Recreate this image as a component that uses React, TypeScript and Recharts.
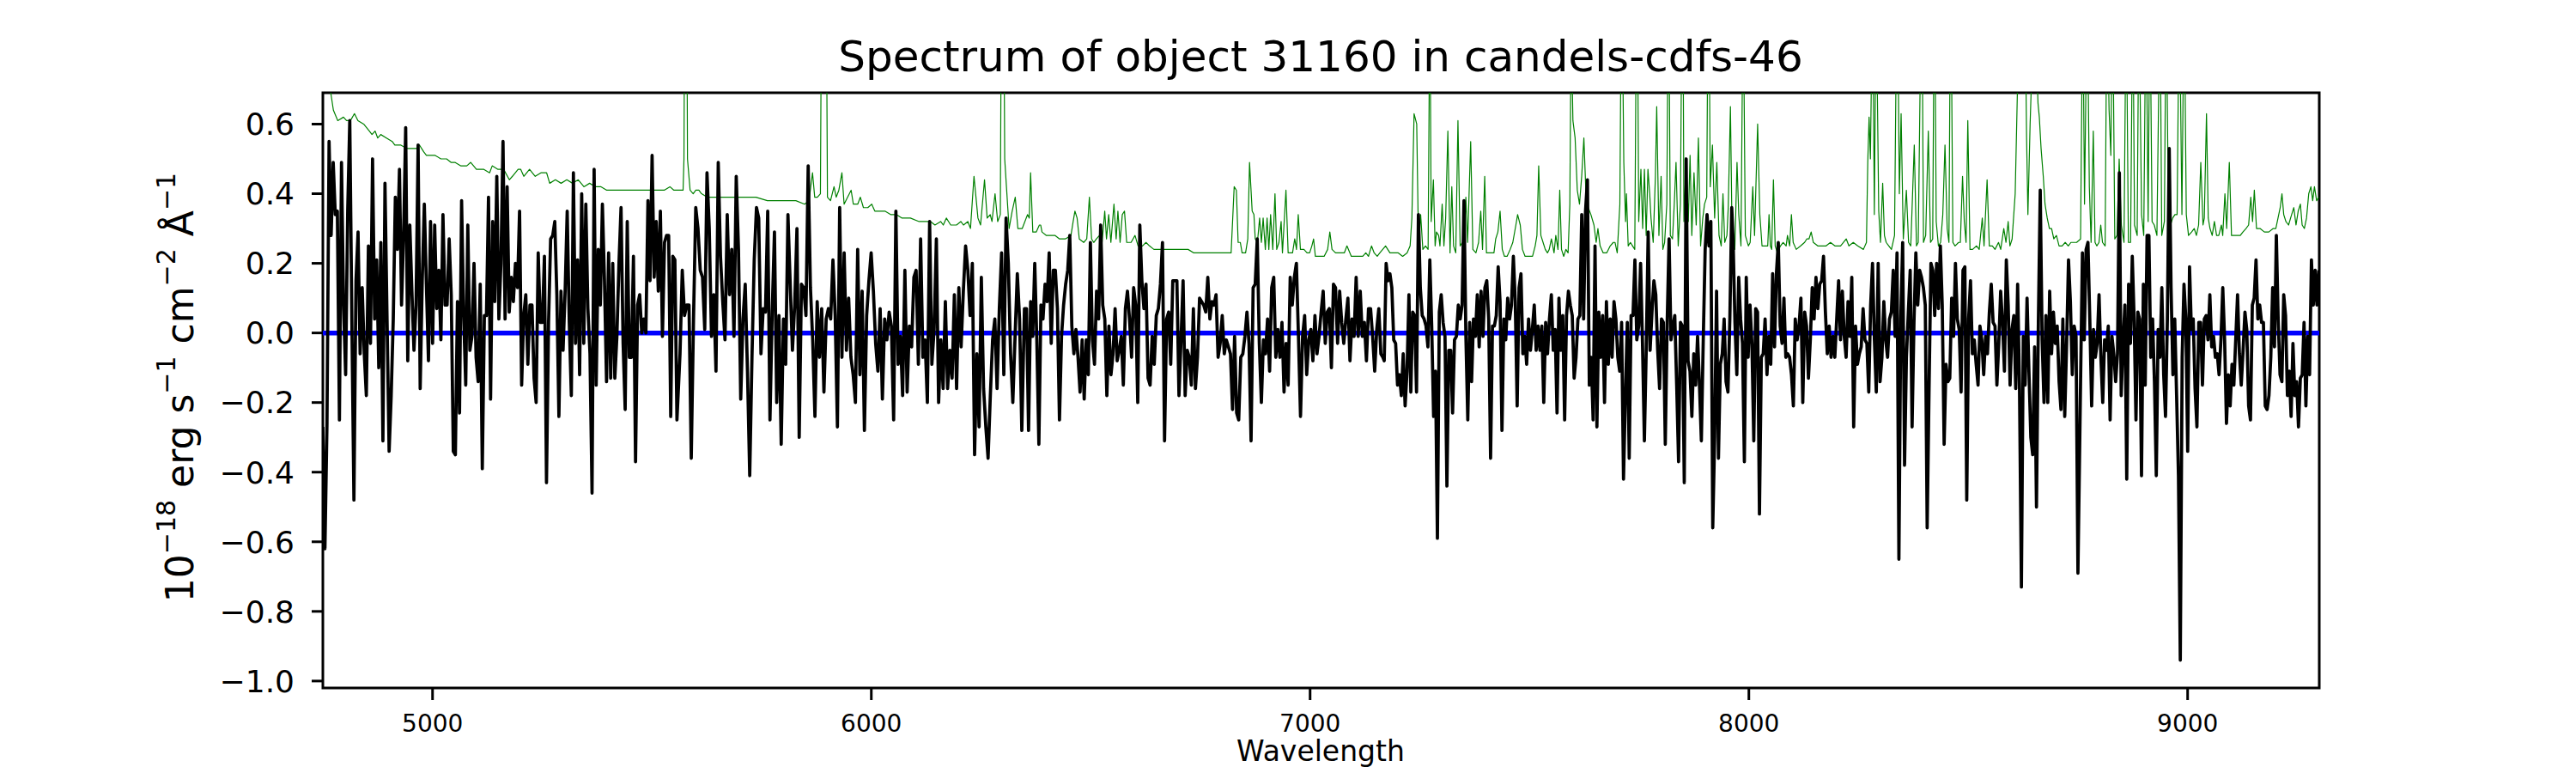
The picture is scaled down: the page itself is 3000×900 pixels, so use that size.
import { LineChart, Line, XAxis, YAxis, ReferenceArea } from 'recharts';

// wavelength grid limits of the plot (Å) and flux limits (1e-18 erg/s/cm2/Å)
const X_DOMAIN: [number, number] = [4750, 9300];
const Y_DOMAIN: [number, number] = [-1.02, 0.69];
const X_TICKS = [5000, 6000, 7000, 8000, 9000];
const Y_TICKS = [-1.0, -0.8, -0.6, -0.4, -0.2, 0.0, 0.2, 0.4, 0.6];

const SEGMENT_RANGES: [number, number][] = [
  [4750, 5557], [5564, 6343], [6349, 7166], [7169, 7961], [7964, 8750], [8756, 9299]
];

const FLUX_A = [
  -0.27,-0.62,-0.26,0.55,0.28,0.49,0.34,0.35,-0.25,0.49,0.08,-0.12,0.35,0.61,0.04,-0.48,0.15,0.29,-0.06,0.13,
  -0.06,-0.18,0.25,-0.03,0.50,0.04,0.21,-0.10,0.26,-0.31,0.43,0.04,-0.34,-0.18,0.04,0.39,0.24,0.47,0.08,0.28,
  0.59,-0.08,0.31,0.12,-0.05,0.08,0.54,-0.16,0.15,0.37,0.14,-0.08,0.32,-0.03,0.31,0.07,0.18,-0.02,0.34,0.08,
  0.08,0.27,0.11,-0.34,-0.35,0.09,-0.23,0.38,0.05,-0.15,0.31,-0.05,-0.01,0.20,-0.07,-0.14,0.14,-0.39,0.05,0.05,
  0.39,-0.19,0.32,0.09,0.45,0.04,0.20,0.55,0.04,0.42,0.06,0.16,0.09,0.20,0.13,0.35,-0.15,0.05,0.11,-0.09,
  0.08,0.08,-0.13,-0.20,0.23,0.03,0.03,0.22,-0.43,0.03,0.27,0.28,0.32,0.11,-0.24,0.12,-0.05,0.12,0.35,0.03,
  -0.18,0.46,-0.03,0.21,-0.12,0.40,-0.03,0.37,0.07,-0.06,-0.46,0.47,-0.15,0.24,0.08,0.37,0.15,-0.14,0.23,-0.13,
  0.20,-0.13,-0.01,0.20,0.36,-0.03,-0.22,0.32,-0.07,-0.07,0.22,-0.37,0.08,0.11,0.00,0.04,0.00,0.38,0.15,0.51,
  0.16,0.32,0.12,0.35,-0.01,0.26,0.28,0.28,-0.24,0.22,0.21,-0.25
];

const FLUX_B = [
  -0.06,0.18,0.05,0.08,0.08,-0.36,0.04,0.36,0.30,0.18,0.16,0.01,0.46,0.30,-0.01,0.11,-0.11,0.49,0.22,0.09,
  -0.02,0.34,0.11,0.24,-0.01,0.45,0.24,-0.19,0.04,0.14,-0.11,-0.41,-0.07,0.21,0.36,0.33,-0.06,0.07,0.06,0.35,
  -0.25,0.06,0.29,-0.20,0.05,-0.32,0.04,-0.09,0.34,0.14,-0.05,0.08,0.30,-0.30,0.14,0.13,0.05,0.48,0.13,-0.02,
  -0.24,0.09,-0.07,0.07,-0.17,0.04,0.07,0.04,0.21,0.05,-0.27,0.36,-0.07,0.23,-0.05,0.10,-0.07,-0.12,-0.20,0.24,
  -0.12,0.12,-0.28,0.05,0.15,0.23,0.12,-0.03,-0.11,0.07,-0.19,0.04,-0.02,0.06,0.02,-0.25,0.35,-0.09,-0.01,-0.18,
  0.18,-0.17,0.02,-0.04,0.16,0.18,-0.09,0.27,-0.07,-0.02,-0.20,0.32,-0.09,0.01,0.27,-0.20,-0.02,-0.16,0.09,-0.16,
  -0.05,-0.13,0.11,-0.16,0.13,-0.04,0.12,0.25,0.18,0.05,0.20,-0.35,-0.06,-0.27,0.16,-0.16,-0.27,-0.36,-0.18,-0.02,
  0.04,-0.16,0.07,0.23,-0.12,0.33,0.20,-0.06,-0.20,-0.01,0.17,0.04,-0.28
];

const FLUX_C = [
  0.07,0.07,-0.28,0.09,-0.01,0.20,-0.02,-0.32,0.08,0.04,0.14,0.09,0.23,-0.03,0.18,0.18,0.07,-0.25,-0.01,0.08,
  0.14,0.18,0.28,0.02,-0.06,0.01,-0.07,-0.17,-0.02,-0.19,-0.02,-0.12,0.26,-0.02,-0.09,0.12,0.04,0.31,0.08,0.04,
  -0.18,0.02,-0.12,-0.06,0.07,-0.08,-0.05,-0.01,-0.15,0.07,0.12,0.04,-0.07,0.13,0.08,-0.20,0.31,0.15,0.07,0.14,
  -0.13,-0.15,-0.01,-0.09,0.05,0.07,0.14,0.26,-0.31,0.04,0.06,-0.09,0.15,0.15,0.15,-0.18,-0.02,0.15,-0.18,-0.05,
  -0.07,-0.15,0.07,-0.16,-0.07,0.10,0.09,0.08,0.06,0.16,0.04,0.09,0.08,0.11,-0.07,-0.03,0.05,-0.06,-0.02,-0.04,
  -0.06,-0.22,-0.01,-0.23,-0.25,-0.07,-0.06,-0.01,0.06,-0.03,-0.31,0.13,0.14,0.27,-0.03,-0.20,-0.02,-0.06,0.04,-0.11,
  0.13,0.16,-0.07,0.01,-0.07,0.03,-0.17,-0.03,-0.15,0.16,0.08,0.16,0.20,-0.01,-0.24,-0.01,0.05,-0.12,-0.02,0.01,
  -0.08,0.05,-0.06,-0.01,0.06,0.12,-0.03,0.06,0.07,-0.10,0.14,0.13,-0.03,0.12,0.03,-0.03,0.04,0.10,-0.08,0.04,
  -0.01,0.16,-0.01,0.12,-0.01,0.03,-0.08,0.07,0.07,-0.01,-0.11,0.01,0.07,-0.06,-0.07
];

const FLUX_D = [
  -0.08,0.20,0.15,0.17,0.13,-0.02,-0.03,-0.15,-0.12,-0.18,-0.06,-0.21,-0.11,0.11,-0.17,0.06,0.05,-0.17,0.34,0.13,
  0.05,0.04,0.02,-0.04,0.21,0.02,-0.24,-0.11,-0.59,0.06,0.11,0.03,-0.01,-0.44,-0.05,-0.05,-0.23,-0.02,-0.01,0.08,
  0.04,0.08,0.38,-0.01,-0.25,0.03,-0.14,0.04,-0.01,0.11,-0.04,0.12,-0.01,0.13,0.15,0.04,-0.36,0.02,0.02,0.05,
  0.19,0.09,-0.28,0.04,-0.02,0.10,0.04,0.08,0.22,0.09,-0.21,0.13,0.17,-0.06,-0.01,-0.09,0.04,-0.05,0.01,0.08,
  -0.05,0.02,-0.05,0.02,-0.20,0.03,-0.06,0.04,0.11,-0.05,0.01,-0.23,0.10,-0.05,0.05,-0.25,0.05,0.12,0.08,0.05,
  -0.13,-0.07,0.04,0.05,0.34,0.04,0.35,0.44,-0.15,-0.07,-0.25,0.25,-0.27,0.06,-0.07,0.05,-0.20,0.09,-0.09,0.04,
  -0.07,0.09,0.04,-0.07,-0.11,0.03,-0.42,-0.18,0.03,-0.36,0.05,0.05,0.21,-0.02,0.02,0.20,-0.03,-0.31,-0.04,0.29,
  -0.05,0.06,0.15,0.11,-0.05,-0.16,0.04,0.03,-0.32,0.03,0.27,-0.02,0.02,0.05,-0.15,-0.37,0.03,0.02,-0.43,0.50,
  -0.08,-0.11,-0.24,-0.06,-0.15,-0.01,-0.15,-0.31,-0.02,0.24,0.34,0.25,0.32,-0.56,-0.30,0.12,-0.36,-0.09,-0.06,0.04,
  -0.14,-0.17,0.04,0.36
];

const FLUX_E = [
  0.27,0.03,-0.12,0.16,0.04,-0.03,-0.37,0.16,-0.07,0.08,-0.03,-0.31,0.07,0.06,-0.52,-0.07,-0.06,0.04,-0.12,-0.01,
  -0.09,0.17,-0.04,0.17,0.26,0.02,-0.03,0.10,-0.07,-0.06,-0.07,-0.12,-0.21,0.04,-0.02,0.02,0.10,-0.20,0.06,0.02,
  -0.13,-0.02,0.13,0.04,0.16,0.07,0.14,0.15,0.22,0.06,-0.06,0.02,-0.07,-0.01,-0.07,0.04,0.15,-0.02,0.12,-0.01,
  -0.07,0.09,-0.01,0.16,-0.27,0.02,-0.09,-0.06,-0.04,0.07,-0.02,-0.03,-0.17,0.08,0.20,-0.02,-0.17,0.20,-0.14,-0.07,
  0.09,-0.02,-0.07,0.04,0.06,0.18,-0.01,0.23,-0.65,0.04,0.26,-0.38,-0.07,0.06,0.18,-0.27,0.03,0.23,0.08,0.18,
  0.16,0.13,0.08,-0.56,-0.16,0.20,0.18,0.05,0.20,0.07,0.25,0.08,-0.32,-0.09,-0.14,-0.13,0.10,-0.01,0.20,0.04,
  0.01,-0.17,0.18,0.19,-0.48,0.04,0.15,-0.06,-0.02,-0.09,-0.15,0.02,-0.02,-0.12,-0.01,-0.06,0.06,0.14,0.03,0.02,
  -0.15,-0.03,0.12,0.03,-0.11,0.21,0.08,-0.15,0.01,0.05,-0.16,0.14,-0.16,-0.73,-0.01,-0.15,0.10,-0.11,-0.30,-0.35,
  -0.04,-0.50,0.03,0.41,-0.02,-0.20,0.05,-0.20,0.12,-0.06,0.06,-0.03,0.02,-0.14,-0.22,0.04,-0.24,-0.03,0.21,0.09,
  -0.12,0.02,-0.01,-0.69
];

const FLUX_F = [
  -0.14,0.23,-0.02,0.24,0.26,0.04,-0.21,0.01,-0.07,-0.03,0.11,-0.07,-0.20,-0.02,-0.05,0.02,-0.25,-0.01,-0.06,-0.14,
  -0.06,0.46,-0.18,-0.03,0.08,-0.42,0.14,-0.03,0.22,0.04,-0.25,0.06,0.04,-0.41,0.14,-0.15,0.28,0.28,-0.07,0.04,
  -0.14,-0.41,0.01,-0.07,0.13,-0.12,-0.24,0.04,0.53,0.13,-0.12,0.04,-0.18,-0.41,-0.94,-0.07,0.14,0.04,-0.34,0.19,
  0.01,0.04,-0.16,-0.27,0.03,0.03,-0.15,0.04,0.05,-0.02,0.11,-0.04,-0.01,-0.07,-0.06,-0.12,-0.02,0.13,-0.02,-0.26,
  -0.12,-0.21,-0.09,-0.15,-0.02,0.11,-0.06,-0.15,-0.05,0.06,0.01,-0.21,-0.25,0.08,0.10,0.21,0.04,0.08,0.03,0.03,
  -0.21,-0.22,-0.18,-0.07,0.13,-0.04,0.28,0.04,-0.12,-0.14,0.11,0.05,-0.18,-0.11,-0.24,-0.03,-0.18,-0.14,-0.27,-0.13,
  -0.12,0.03,-0.21,-0.01,-0.12,0.21,0.08,0.18,0.08,0.18
];

// flux uncertainty / sky, [wavelength, value]; values above the frame are clipped
const SKY_BLUE: [number, number][] = [
  [4750,0.95],[4761,0.80],[4768,0.69],[4774,0.64],[4784,0.61],[4797,0.62],[4804,0.61],[4813,0.61],[4822,0.63],[4830,0.61],
  [4843,0.60],[4856,0.58],[4862,0.57],[4869,0.58],[4875,0.56],[4882,0.57],[4895,0.56],[4908,0.55],[4914,0.54],[4927,0.54],
  [4941,0.53],[4954,0.53],[4963,0.53],[4970,0.54],[4980,0.52],[4986,0.51],[4993,0.51],[5006,0.51],[5019,0.50],[5032,0.50],
  [5042,0.49],[5051,0.49],[5064,0.48],[5078,0.48],[5087,0.49],[5100,0.47],[5117,0.47],[5130,0.46],[5136,0.48],[5149,0.47],
  [5162,0.47],[5175,0.44],[5182,0.45],[5195,0.47],[5201,0.47],[5208,0.45],[5221,0.47],[5234,0.45],[5247,0.46],[5260,0.46],
  [5267,0.43],[5280,0.44],[5293,0.43],[5306,0.44],[5319,0.43],[5332,0.44],[5345,0.42],[5358,0.43],[5371,0.42],[5384,0.42],
  [5397,0.41],[5410,0.41],[5423,0.41],[5436,0.41],[5449,0.41],[5462,0.41],[5475,0.41],[5488,0.41],[5502,0.41],[5515,0.41],
  [5528,0.41],[5541,0.42],[5550,0.41]
];

const SKY_GREEN: [number, number][] = [
  [5561,0.41],[5571,0.41],[5573,0.50],[5577,1.80],[5581,0.50],[5587,0.41],[5594,0.40],[5600,0.41],[5607,0.41],[5613,0.40],
  [5626,0.39],[5639,0.39],[5652,0.39],[5672,0.39],[5692,0.39],[5711,0.39],[5737,0.39],[5763,0.38],[5783,0.38],[5802,0.38],
  [5828,0.38],[5848,0.37],[5858,0.38],[5866,0.46],[5871,0.39],[5877,0.39],[5884,0.40],[5889,1.60],[5892,1.00],[5895,1.60],
  [5900,0.39],[5907,0.38],[5915,0.42],[5920,0.39],[5926,0.41],[5933,0.46],[5938,0.37],[5946,0.39],[5954,0.41],[5959,0.37],
  [5969,0.37],[5975,0.39],[5982,0.36],[5992,0.36],[6001,0.37],[6008,0.35],[6018,0.35],[6031,0.35],[6044,0.34],[6057,0.34],
  [6070,0.33],[6089,0.33],[6109,0.32],[6122,0.32],[6135,0.32],[6145,0.31],[6158,0.32],[6164,0.31],[6171,0.33],[6181,0.31],
  [6194,0.31],[6204,0.32],[6210,0.31],[6220,0.32],[6226,0.30],[6234,0.45],[6243,0.33],[6249,0.31],[6258,0.44],[6264,0.33],
  [6271,0.34],[6275,0.32],[6282,0.40],[6288,0.32],[6294,0.34],[6299,1.70],[6304,0.50],[6308,0.42],[6314,0.30],[6321,0.35],
  [6328,0.39],[6334,0.30],[6344,0.30]
];

const SKY_RED: [number, number][] = [
  [6356,0.34],[6360,0.33],[6363,0.46],[6368,0.29],[6376,0.29],[6383,0.31],[6386,0.31],[6389,0.29],[6399,0.28],[6409,0.28],
  [6419,0.28],[6429,0.27],[6442,0.27],[6455,0.28],[6460,0.32],[6464,0.35],[6469,0.33],[6474,0.27],[6484,0.26],[6491,0.27],
  [6497,0.39],[6502,0.27],[6507,0.26],[6513,0.27],[6520,0.28],[6526,0.26],[6532,0.35],[6536,0.27],[6541,0.34],[6546,0.26],
  [6553,0.37],[6558,0.27],[6562,0.35],[6567,0.26],[6572,0.34],[6577,0.35],[6582,0.26],[6592,0.26],[6601,0.28],[6608,0.25],
  [6618,0.25],[6626,0.26],[6634,0.25],[6644,0.24],[6657,0.24],[6670,0.24],[6683,0.24],[6696,0.24],[6709,0.24],[6722,0.24],
  [6735,0.23],[6748,0.23],[6761,0.23],[6774,0.23],[6787,0.23],[6800,0.23],[6820,0.23],[6827,0.42],[6832,0.41],[6836,0.26],
  [6841,0.26],[6845,0.23],[6853,0.23],[6858,0.27],[6862,0.49],[6868,0.35],[6872,0.34],[6875,0.27],[6880,0.26],[6885,0.33],
  [6889,0.26],[6893,0.33],[6898,0.24],[6902,0.33],[6906,0.24],[6910,0.34],[6915,0.24],[6920,0.40],[6924,0.24],[6929,0.26],
  [6934,0.32],[6937,0.23],[6941,0.32],[6945,0.41],[6950,0.23],[6960,0.23],[6965,0.27],[6969,0.24],[6973,0.34],[6978,0.24],
  [6986,0.24],[6993,0.23],[6999,0.23],[7004,0.25],[7008,0.27],[7012,0.22],[7022,0.22],[7032,0.22],[7040,0.24],[7045,0.29],
  [7050,0.24],[7058,0.23],[7068,0.23],[7078,0.23],[7084,0.25],[7094,0.22],[7107,0.22],[7120,0.22],[7127,0.23],[7133,0.22],
  [7140,0.25],[7146,0.23],[7153,0.22],[7159,0.23]
];

const SKY_OH1: [number, number][] = [
  [7172,0.25],[7182,0.23],[7192,0.23],[7201,0.23],[7211,0.22],[7221,0.23],[7228,0.25],[7232,0.33],[7237,0.63],[7243,0.60],
  [7246,0.35],[7249,0.28],[7252,0.34],[7257,0.24],[7263,0.25],[7269,0.24],[7273,1.00],[7276,0.32],[7281,0.44],[7285,0.25],
  [7288,0.29],[7293,0.28],[7296,0.25],[7301,0.37],[7305,0.25],[7309,0.33],[7314,0.58],[7319,0.23],[7323,0.42],[7327,0.25],
  [7332,0.23],[7337,0.61],[7342,0.25],[7347,0.26],[7351,0.24],[7355,0.39],[7359,0.26],[7366,0.55],[7371,0.24],[7378,0.23],
  [7384,0.26],[7389,0.35],[7393,0.24],[7398,0.45],[7402,0.23],[7410,0.23],[7419,0.23],[7423,0.27],[7428,0.29],[7433,0.35],
  [7438,0.24],[7443,0.22],[7449,0.22],[7456,0.24],[7462,0.26],[7469,0.31],[7473,0.34],[7479,0.31],[7484,0.24],[7490,0.22],
  [7498,0.22],[7507,0.22],[7513,0.25],[7517,0.28],[7521,0.48],[7526,0.28],[7531,0.26],[7536,0.24],[7541,0.23],[7545,0.24],
  [7550,0.27],[7556,0.23],[7560,0.28],[7565,0.24],[7569,0.41],[7573,0.24],[7578,0.22],[7583,0.24],[7588,0.23],[7592,0.37],
  [7595,0.90],[7599,0.61],[7604,0.56],[7609,0.41],[7614,0.37],[7619,0.45],[7624,0.56],[7629,0.39],[7634,0.36],[7640,0.34],
  [7647,0.31],[7652,0.26],[7656,0.30],[7661,0.25],[7668,0.23],[7676,0.23],[7684,0.25],[7691,0.26],[7695,0.26],[7700,0.23],
  [7706,0.37],[7710,1.10],[7715,0.49],[7719,0.32],[7721,0.40],[7725,0.25],[7730,0.26],[7735,0.25],[7740,0.24],[7745,1.20],
  [7749,0.32],[7754,0.47],[7758,0.30],[7762,0.47],[7766,0.28],[7770,0.47],[7774,0.40],[7777,0.33],[7782,0.26],[7787,0.45],
  [7790,0.65],[7795,0.28],[7800,0.45],[7804,0.24],[7808,0.26],[7813,0.37],[7817,1.10],[7821,0.28],[7826,0.27],[7830,0.37],
  [7834,0.49],[7839,0.25],[7844,0.37],[7849,1.20],[7852,0.32],[7857,0.50],[7862,0.32],[7866,0.51],[7870,0.28],[7875,0.46],
  [7880,0.31],[7885,0.56],[7890,0.25],[7895,0.33],[7899,0.37],[7904,0.39],[7908,1.20],[7912,0.42],[7917,0.54],[7922,0.33],
  [7927,0.49],[7932,0.28],[7937,0.25],[7941,0.40],[7945,0.26],[7950,0.28]
];

const SKY_OH2: [number, number][] = [
  [7953,0.36],[7958,0.65],[7962,0.26],[7968,0.24],[7973,0.49],[7977,0.34],[7982,0.25],[7987,1.00],[7992,0.28],[7999,0.25],
  [8003,0.26],[8009,0.42],[8013,0.28],[8020,0.60],[8025,0.34],[8030,0.25],[8036,0.25],[8043,0.25],[8046,0.34],[8049,0.25],
  [8052,0.24],[8056,0.44],[8060,0.25],[8065,0.23],[8072,0.25],[8078,0.26],[8085,0.25],[8088,0.28],[8093,0.25],[8097,0.34],
  [8101,0.26],[8108,0.24],[8118,0.25],[8127,0.26],[8132,0.27],[8137,0.27],[8142,0.29],[8147,0.26],[8157,0.25],[8167,0.25],
  [8176,0.25],[8186,0.26],[8196,0.25],[8209,0.25],[8222,0.27],[8228,0.25],[8238,0.26],[8248,0.25],[8261,0.24],[8268,0.26],
  [8271,0.49],[8274,0.62],[8277,0.50],[8282,1.00],[8286,0.34],[8290,1.00],[8296,0.35],[8300,0.26],[8305,0.43],[8309,0.28],
  [8313,0.26],[8319,0.25],[8325,0.24],[8332,0.28],[8338,1.10],[8343,0.40],[8347,0.63],[8352,0.27],[8359,0.41],[8364,0.26],
  [8369,0.25],[8377,0.54],[8382,0.25],[8386,0.26],[8394,1.10],[8398,0.26],[8403,0.28],[8409,0.58],[8414,0.26],[8419,0.27],
  [8423,1.10],[8427,0.32],[8432,0.25],[8437,0.26],[8442,0.34],[8447,0.54],[8452,0.30],[8456,0.26],[8460,1.10],[8465,0.26],
  [8470,0.25],[8478,0.26],[8482,0.26],[8487,0.45],[8491,0.32],[8495,0.26],[8499,0.61],[8504,0.24],[8510,0.24],[8519,0.25],
  [8525,0.24],[8532,0.33],[8536,0.25],[8543,0.44],[8548,0.25],[8555,0.25],[8561,0.24],[8569,0.26],[8574,0.24],[8581,0.30],
  [8586,0.26],[8591,0.32],[8595,0.25],[8600,0.27],[8607,0.40],[8613,0.75],[8620,1.10],[8628,1.10],[8633,0.56],[8636,0.34],
  [8641,0.60],[8646,0.80],[8653,0.90],[8659,0.66],[8662,0.62],[8666,0.53],[8671,0.45],[8675,0.37],[8680,0.33],[8685,0.30],
  [8690,0.30],[8695,0.27],[8701,0.28],[8707,0.25],[8714,0.25],[8721,0.26],[8728,0.25],[8734,0.26],[8741,0.26],[8747,0.26]
];

const SKY_OH3: [number, number][] = [
  [8756,0.27],[8761,1.00],[8765,0.37],[8771,1.00],[8776,0.42],[8780,0.26],[8785,0.58],[8789,0.26],[8793,0.25],[8798,0.26],
  [8802,0.31],[8806,0.26],[8812,0.25],[8816,1.00],[8821,0.64],[8825,0.51],[8829,1.00],[8834,0.27],[8839,0.28],[8844,0.50],
  [8849,0.31],[8855,0.26],[8860,1.00],[8865,0.26],[8870,0.26],[8875,1.00],[8879,0.31],[8885,0.28],[8889,1.00],[8895,0.34],
  [8900,0.28],[8905,1.00],[8910,0.32],[8914,1.00],[8919,0.32],[8924,0.31],[8930,0.28],[8937,1.00],[8941,0.28],[8947,0.32],
  [8951,1.00],[8956,0.37],[8961,0.31],[8966,0.33],[8971,0.34],[8976,0.34],[8981,1.00],[8987,0.34],[8992,1.00],[8997,0.34],
  [9002,0.28],[9009,0.29],[9015,0.30],[9020,0.28],[9025,0.31],[9030,0.49],[9035,0.31],[9038,0.33],[9043,0.63],[9047,0.33],
  [9051,0.30],[9056,0.28],[9061,0.32],[9066,0.28],[9071,0.28],[9077,0.31],[9080,0.28],[9085,0.40],[9089,0.30],[9095,0.49],
  [9100,0.28],[9106,0.28],[9113,0.28],[9120,0.28],[9126,0.29],[9133,0.30],[9139,0.31],[9144,0.39],[9148,0.32],[9152,0.41],
  [9157,0.30],[9165,0.30],[9175,0.29],[9185,0.29],[9195,0.30],[9201,0.30],[9206,0.33],[9211,0.36],[9215,0.40],[9219,0.34],
  [9224,0.32],[9230,0.31],[9237,0.34],[9242,0.36],[9247,0.31],[9252,0.35],[9257,0.37],[9261,0.31],[9266,0.30],[9271,0.33],
  [9276,0.40],[9281,0.42],[9285,0.38],[9289,0.42],[9294,0.38],[9299,0.39]
];

// zero-flux model line
const MODEL_WAVE = [4750, 9300];
const MODEL_FLUX = [0, 0];

const FLUX_SEGMENTS = [FLUX_A, FLUX_B, FLUX_C, FLUX_D, FLUX_E, FLUX_F];

const fluxData = FLUX_SEGMENTS.flatMap((vals, s) => {
  const [a, b] = SEGMENT_RANGES[s];
  return vals.map((f, i) => ({ wave: a + ((b - a) * i) / (vals.length - 1), flux: f }));
});

const skyData = [...SKY_BLUE, ...SKY_GREEN, ...SKY_RED, ...SKY_OH1, ...SKY_OH2, ...SKY_OH3].map(
  ([wave, err]) => ({ wave, err })
);

const modelData = MODEL_WAVE.map((wave, i) => ({ wave, model: MODEL_FLUX[i] }));

const FONT = 'DejaVu Sans';

const fmtY = (v: number) => (v < 0 ? '\u2212' : '') + Math.abs(v).toFixed(1);

const App = () => (
  <div style={{ position: 'absolute', left: 0, top: 0, width: 3000, height: 900, background: '#fff' }}>
    <LineChart
      width={3000}
      height={900}
      margin={{ top: 108, right: 299, bottom: 39, left: 256 }}
    >
      <XAxis
        type="number"
        dataKey="wave"
        domain={X_DOMAIN}
        ticks={X_TICKS}
        allowDataOverflow
        interval={0}
        height={60}
        axisLine={false}
        tickSize={14}
        tickMargin={17}
        tickLine={{ stroke: '#000', strokeWidth: 3 }}
        tick={{ fontSize: 28, fill: '#000', fontFamily: FONT }}
      />
      <YAxis
        type="number"
        domain={Y_DOMAIN}
        ticks={Y_TICKS}
        allowDataOverflow
        interval={0}
        width={120}
        axisLine={false}
        tickSize={13}
        tickMargin={20}
        tickFormatter={fmtY}
        tickLine={{ stroke: '#000', strokeWidth: 3 }}
        tick={{ fontSize: 36, fill: '#000', fontFamily: FONT }}
      />
      <Line
        data={skyData}
        dataKey="err"
        stroke="#008000"
        strokeWidth={1.2}
        dot={false}
        isAnimationActive={false}
        strokeLinejoin="round"
      />
      <Line
        data={modelData}
        dataKey="model"
        stroke="#0000ff"
        strokeWidth={5.5}
        dot={false}
        isAnimationActive={false}
      />
      <Line
        data={fluxData}
        dataKey="flux"
        stroke="#000000"
        strokeWidth={3.75}
        dot={false}
        isAnimationActive={false}
        strokeLinejoin="round"
      />
      <ReferenceArea
        x1={X_DOMAIN[0]}
        x2={X_DOMAIN[1]}
        y1={Y_DOMAIN[0]}
        y2={Y_DOMAIN[1]}
        fill="none"
        stroke="#000"
        strokeWidth={3}
        ifOverflow="visible"
      />
    </LineChart>
    <svg
      width={3000}
      height={900}
      style={{ position: 'absolute', left: 0, top: 0, pointerEvents: 'none' }}
      fontFamily={FONT}
    >
      <text x={1538} y={83} fontSize={50} textAnchor="middle" fill="#000">
        Spectrum of object 31160 in candels-cdfs-46
      </text>
      <text x={1538} y={886} fontSize={33} textAnchor="middle" fill="#000">
        Wavelength
      </text>
      <text x={225} y={451} fontSize={44} textAnchor="middle" fill="#000" transform="rotate(-90 225 451)">
        <tspan>10</tspan>
        <tspan fontSize={30} dy={-21}>{'\u221218'}</tspan>
        <tspan dy={21}> erg s</tspan>
        <tspan fontSize={30} dy={-21}>{'\u22121'}</tspan>
        <tspan dy={21}> cm</tspan>
        <tspan fontSize={30} dy={-21}>{'\u22122'}</tspan>
        <tspan dy={21}> Å</tspan>
        <tspan fontSize={30} dy={-21}>{'\u22121'}</tspan>
      </text>
    </svg>
  </div>
);

export default App;
